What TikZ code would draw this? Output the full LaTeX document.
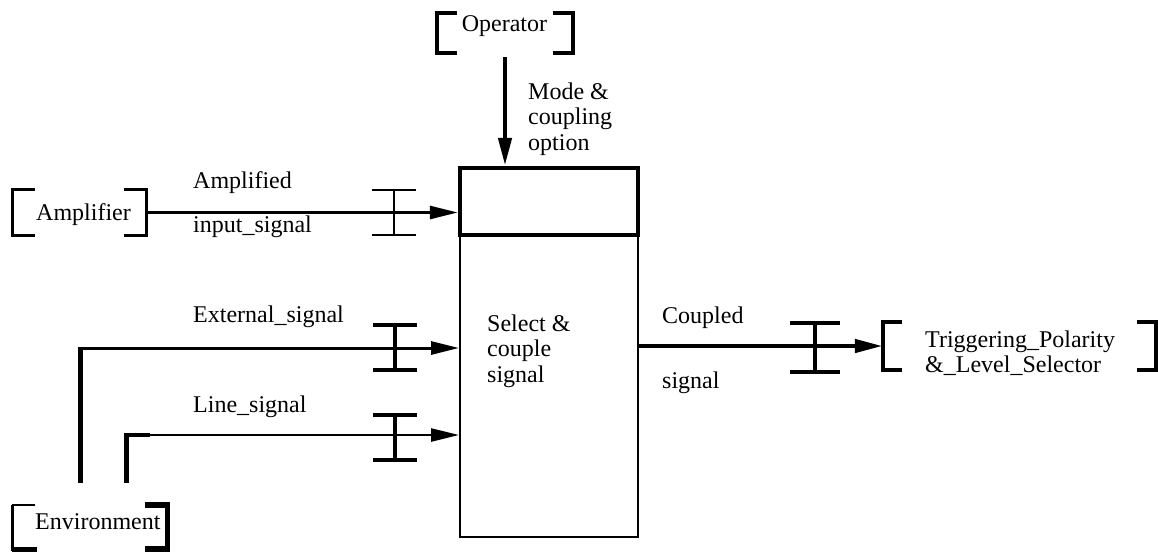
\documentclass[tikz,border=0pt]{standalone}
\usepackage{fontspec}
\setmainfont{Liberation Serif}
\usetikzlibrary{arrows.meta,calc}
\newcommand\drawbrkt[4]{%
  \draw[line width=#3] ($(#1.north west)+(#2,0)$) -- (#1.north west) -- (#1.south west) -- ($(#1.south west)+(#2,0)$);
  \draw[line width=#4] ($(#1.north east)+(-#2,0)$) -- (#1.north east) -- (#1.south east) -- ($(#1.south east)+(-#2,0)$);
}
\begin{document}
\begin{tikzpicture}[x=1pt,y=-1pt,
  txt/.style={font=\fontsize{24}{25.5}\selectfont, inner sep=0pt, anchor=base west, align=left},
  ent/.style={inner sep=0pt, draw=none},
  tip/.style={-{Triangle[length=28pt,width=13pt]}},
  ibeam/.pic={\draw (-22,-22.5)--(22,-22.5) (0,-22.5)--(0,22.5) (-22,22.5)--(22,22.5);},
  ibeamw/.pic={\draw (-25,-24.5)--(25,-24.5) (0,-24.5)--(0,24.5) (-25,24.5)--(25,24.5);}
]
\useasboundingbox (0,0) rectangle (1158,552);

% entities
\node[ent, minimum width=136, minimum height=40] (op) at (505,33) {};
\node[txt, anchor=base] (optxt) at (504.5,31) {Operator};
\drawbrkt{op}{20}{4.5}{4.5}

\node[ent, minimum width=134, minimum height=45] (amp) at (79.5,212.5) {};
\node[txt] (amptxt) at (36,220) {Amplifier};
\drawbrkt{amp}{23}{3}{3}

\node[ent, minimum width=155, minimum height=44] (env) at (90,527) {};
\node[txt] (envtxt) at (35,529) {Environment};
\draw[line width=2.5] ($(env.north west)+(23,0)$) -- (env.north west);
\draw[line width=3] (env.north west) -- ($(env.south west)+(0,2)$);
\draw[line width=5] ($(env.south west)+(0,0)$) -- ($(env.south west)+(25,0)$);
\draw[line width=5.5] ($(env.north east)+(-23,0)$) -- (env.north east) -- (env.south east) -- ($(env.south east)+(-23,0)$);

\node[ent, minimum width=273, minimum height=48] (trig) at (1019.5,346) {};
\node[txt] (trigtxt) at (925,372.5) {Triggering\_Polarity\\\&\_Level\_Selector};
\drawbrkt{trig}{19}{4.5}{4.5}

% process boxes
\node[draw, line width=2, minimum width=178, minimum height=302, inner sep=0] (sel) at (549,386) {};
\node[draw, line width=4.5, minimum width=178, minimum height=67, inner sep=0] (mode) at (549,201.5) {};
\node[txt] (seltxt) at (487,382) {Select \&\\couple\\signal};

% connectors
\draw[line width=4.5, tip] ($(op.south)+(0,4)$) -- (op.south |- mode.north);
\node[txt] (modelbl) at (528,150) {Mode \&\\coupling\\option};

\draw[line width=3, tip] (amp.east) -- (amp.east -| mode.west);
\node[txt] (amplbl1) at (193,188) {Amplified};
\node[txt] (amplbl2) at (193,232) {input\_signal};
\pic[line width=2.5] at (394,212.5) {ibeam};

\coordinate (e1) at ($(env.north west)+(68,-22)$);
\coordinate (e2) at (e1 |- 0,348);
\draw[line width=4.5] (e1) -- ($(e2)+(0,-1)$);
\draw[line width=3, tip] (e2) -- (e2 -| sel.west);
\node[txt] (extlbl) at (193,322) {External\_signal};
\pic[line width=4.5] at (395,347.5) {ibeam};

\coordinate (l1) at ($(env.north west)+(114,-22)$);
\coordinate (l2) at (l1 |- 0,435);
\draw[line width=4.5] (l1) -- (l2) -- ($(l2)+(24,0)$);
\draw[line width=2.5, tip] (l2) -- (l2 -| sel.west);
\node[txt] (linelbl) at (193,412) {Line\_signal};
\pic[line width=4.5] at (395,437.5) {ibeam};

\draw[line width=4.5, tip] (trig.west -| sel.east) -- (trig.west);
\node[txt] (couplbl1) at (662,323) {Coupled};
\node[txt] (couplbl2) at (662,388) {signal};
\pic[line width=4.5] at (815,347.5) {ibeamw};
\end{tikzpicture}
\end{document}
